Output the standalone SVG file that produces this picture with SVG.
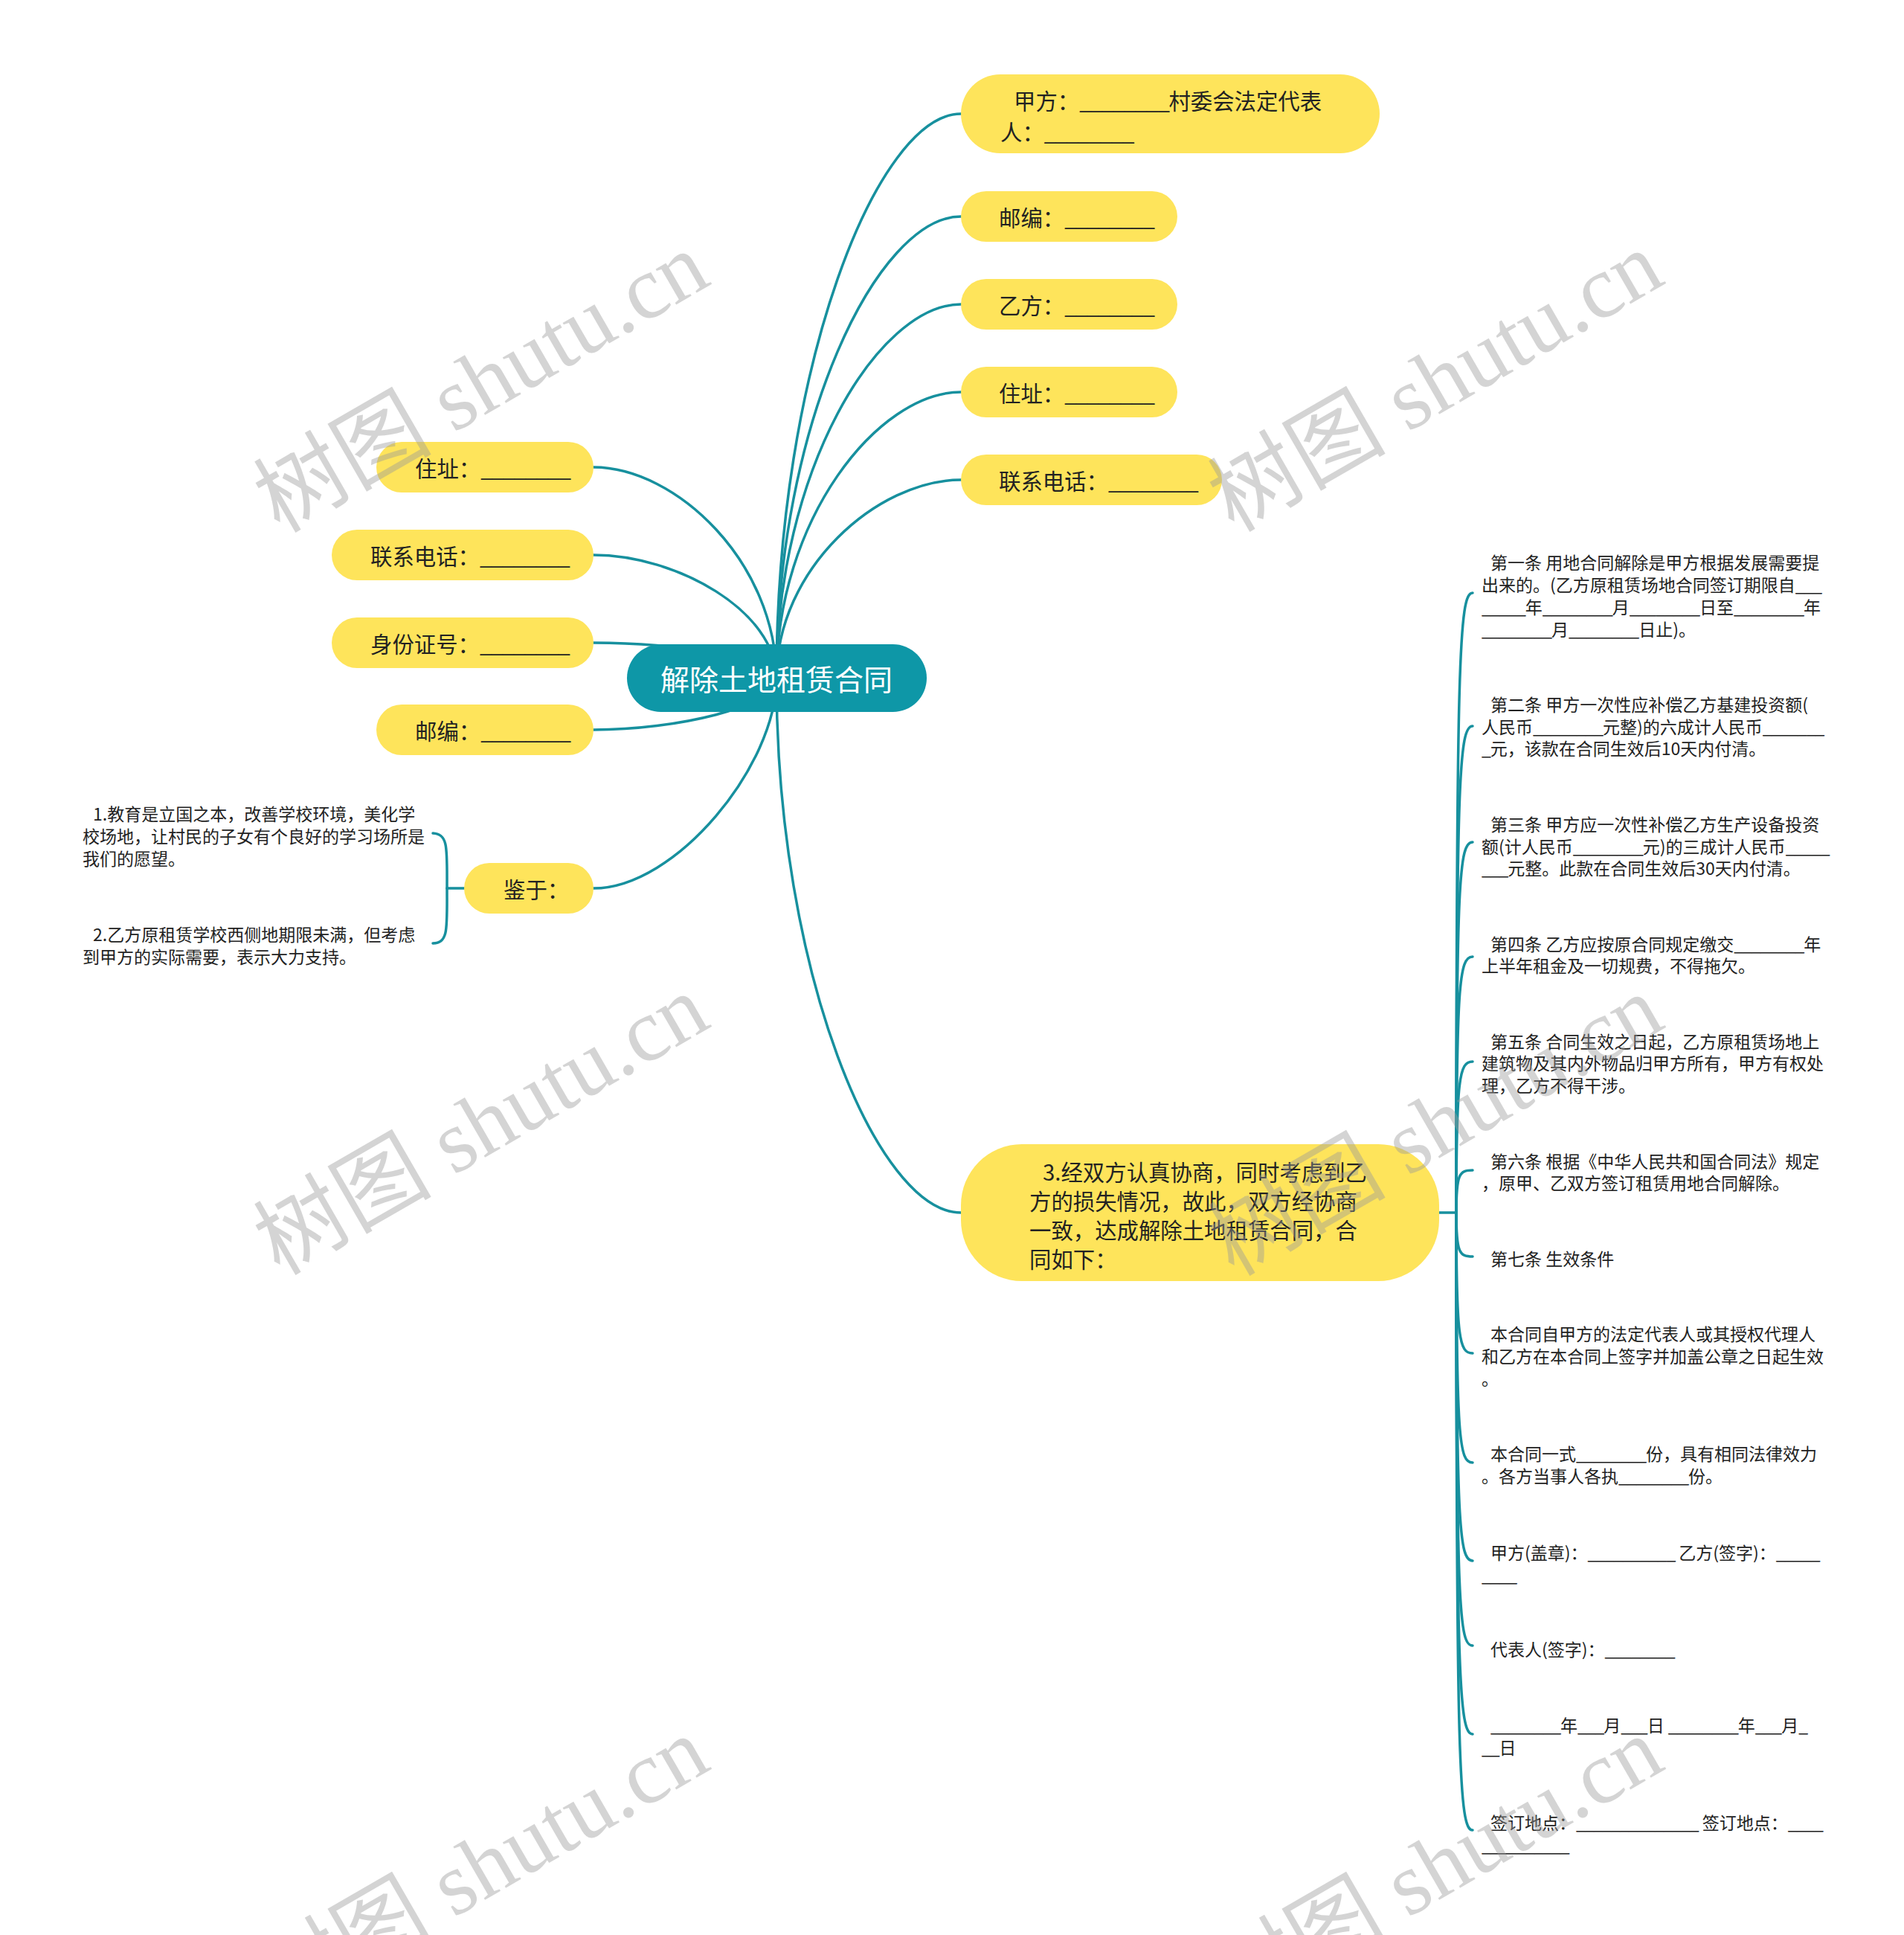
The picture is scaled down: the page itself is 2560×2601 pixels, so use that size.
<svg xmlns="http://www.w3.org/2000/svg" width="2560" height="2601" viewBox="0 0 2560 2601">
<style>
.bg{fill:#ffffff}
.c{fill:none;stroke:#17909E;stroke-width:3.5;stroke-linecap:round}
.yn{fill:#FEE45B}
.root{fill:#0E97A7}
.t{font-family:"Noto Sans CJK SC","Noto Sans",sans-serif;font-size:29.4px;fill:#222;dominant-baseline:central}
.rt{font-family:"Noto Sans CJK SC","Noto Sans",sans-serif;font-size:39px;fill:#ffffff;dominant-baseline:central;text-anchor:middle}
.s{font-family:"Noto Sans CJK SC","Noto Sans",sans-serif;font-size:23px;fill:#222;dominant-baseline:central}
.u{letter-spacing:-1.4px}
.us{letter-spacing:-1.1px}
.wm{font-family:"Liberation Serif","Noto Sans CJK SC",serif;font-size:120px;fill:#9a9a9a;opacity:0.42;text-anchor:middle;dominant-baseline:central}
</style>
<rect class="bg" x="0" y="0" width="2560" height="2601"/>

<g id="connectors">
  <path class="c" d="M1044,912 C1044,493 1180,153 1292,153"/>
  <path class="c" d="M1044,912 C1044,569 1180,291 1292,291"/>
  <path class="c" d="M1044,912 C1044,634 1180,409 1292,409"/>
  <path class="c" d="M1044,912 C1044,699 1180,527 1292,527"/>
  <path class="c" d="M1044,912 C1044,764 1180,645 1292,645"/>
  <path class="c" d="M1044,912 C1044,1307 1180,1630 1292,1630"/>
  <path class="c" d="M1044,912 C1044,756 909,628 798,628"/>
  <path class="c" d="M1044,912 C1044,821 909,746 798,746"/>
  <path class="c" d="M1044,912 C1044,886 909,864 798,864"/>
  <path class="c" d="M1044,912 C1044,950 909,981 798,981"/>
  <path class="c" d="M1044,912 C1044,1029 909,1194 798,1194"/>
  <path class="c" d="M624,1194 H601"/>
  <path class="c" d="M601,1194 C601,1140 603,1121 582,1120"/>
  <path class="c" d="M601,1194 C601,1250 603,1267 582,1268"/>
  <path class="c" d="M1935,1630 H1958"/>
  <path class="c" d="M1958,1630 C1958,880 1962,797 1980,797"/>
  <path class="c" d="M1958,1630 C1958,1041 1962,976 1980,976"/>
  <path class="c" d="M1958,1630 C1958,1180 1962,1132 1980,1132"/>
  <path class="c" d="M1958,1630 C1958,1322 1962,1286 1980,1286"/>
  <path class="c" d="M1958,1630 C1958,1448 1962,1427 1980,1427"/>
  <path class="c" d="M1958,1630 C1958,1578 1962,1573 1980,1573"/>
  <path class="c" d="M1958,1630 C1958,1684 1962,1689 1980,1689"/>
  <path class="c" d="M1958,1630 C1958,1800 1962,1819 1980,1819"/>
  <path class="c" d="M1958,1630 C1958,1936 1962,1966 1980,1966"/>
  <path class="c" d="M1958,1630 C1958,2054 1962,2098 1980,2098"/>
  <path class="c" d="M1958,1630 C1958,2168 1962,2212 1980,2212"/>
  <path class="c" d="M1958,1630 C1958,2260 1962,2331 1980,2331"/>
  <path class="c" d="M1958,1630 C1958,2380 1962,2460 1980,2460"/>
</g>

<g id="root">
  <rect class="root" x="843" y="866" width="403" height="91" rx="45.5"/>
  <text class="rt" x="1044" y="911">解除土地租赁合同</text>
</g>

<g id="n-jiafang">
  <rect class="yn" x="1292" y="100" width="563" height="106" rx="53"/>
  <text class="t" x="1363" y="134">甲方：<tspan class="u">________</tspan>村委会法定代表</text>
  <text class="t" x="1345" y="176">人：<tspan class="u">________</tspan></text>
</g>
<g id="n-youbian-r">
  <rect class="yn" x="1292" y="257" width="291" height="68" rx="34"/>
  <text class="t" x="1343" y="291">邮编：<tspan class="u">________</tspan></text>
</g>
<g id="n-yifang">
  <rect class="yn" x="1292" y="375" width="291" height="68" rx="34"/>
  <text class="t" x="1343" y="409">乙方：<tspan class="u">________</tspan></text>
</g>
<g id="n-zhuzhi-r">
  <rect class="yn" x="1292" y="493" width="291" height="68" rx="34"/>
  <text class="t" x="1343" y="527">住址：<tspan class="u">________</tspan></text>
</g>
<g id="n-dianhua-r">
  <rect class="yn" x="1292" y="611" width="351" height="68" rx="34"/>
  <text class="t" x="1343" y="645">联系电话：<tspan class="u">________</tspan></text>
</g>

<g id="n-zhuzhi-l">
  <rect class="yn" x="506" y="594" width="292" height="68" rx="34"/>
  <text class="t" x="558" y="628">住址：<tspan class="u">________</tspan></text>
</g>
<g id="n-dianhua-l">
  <rect class="yn" x="446" y="712" width="352" height="68" rx="34"/>
  <text class="t" x="498" y="746">联系电话：<tspan class="u">________</tspan></text>
</g>
<g id="n-shenfen">
  <rect class="yn" x="446" y="830" width="352" height="68" rx="34"/>
  <text class="t" x="498" y="864">身份证号：<tspan class="u">________</tspan></text>
</g>
<g id="n-youbian-l">
  <rect class="yn" x="506" y="947" width="292" height="68" rx="34"/>
  <text class="t" x="558" y="981">邮编：<tspan class="u">________</tspan></text>
</g>
<g id="n-jianyu">
  <rect class="yn" x="624" y="1160" width="174" height="68" rx="34"/>
  <text class="t" x="677" y="1194">鉴于：</text>
</g>
<g id="n-jianyu-1">
  <text class="s" x="125" y="1093">1.教育是立国之本，改善学校环境，美化学</text>
  <text class="s" x="111" y="1123">校场地，让村民的子女有个良好的学习场所是</text>
  <text class="s" x="111" y="1153">我们的愿望。</text>
</g>
<g id="n-jianyu-2">
  <text class="s" x="125" y="1255">2.乙方原租赁学校西侧地期限未满，但考虑</text>
  <text class="s" x="111" y="1285">到甲方的实际需要，表示大力支持。</text>
</g>

<g id="n-3">
  <rect class="yn" x="1292" y="1538" width="643" height="184" rx="82"/>
  <text class="t" x="1402" y="1574">3.经双方认真协商，同时考虑到乙</text>
  <text class="t" x="1384" y="1613">方的损失情况，故此，双方经协商</text>
  <text class="t" x="1384" y="1652">一致，达成解除土地租赁合同，合</text>
  <text class="t" x="1384" y="1691">同如下：</text>
</g>

<g id="c1">
  <text class="s" x="2004" y="755">第一条 用地合同解除是甲方根据发展需要提</text>
  <text class="s" x="1992" y="785">出来的。(乙方原租赁场地合同签订期限自<tspan class="us">___</tspan></text>
  <text class="s" x="1992" y="815"><tspan class="us">_____</tspan>年<tspan class="us">________</tspan>月<tspan class="us">________</tspan>日至<tspan class="us">________</tspan>年</text>
  <text class="s" x="1992" y="845"><tspan class="us">________</tspan>月<tspan class="us">________</tspan>日止)。</text>
</g>
<g id="c2">
  <text class="s" x="2004" y="946">第二条 甲方一次性应补偿乙方基建投资额(</text>
  <text class="s" x="1992" y="976">人民币<tspan class="us">________</tspan>元整)的六成计人民币<tspan class="us">_______</tspan></text>
  <text class="s" x="1992" y="1005"><tspan class="us">_</tspan>元，该款在合同生效后10天内付清。</text>
</g>
<g id="c3">
  <text class="s" x="2004" y="1107">第三条 甲方应一次性补偿乙方生产设备投资</text>
  <text class="s" x="1992" y="1137">额(计人民币<tspan class="us">________</tspan>元)的三成计人民币<tspan class="us">_____</tspan></text>
  <text class="s" x="1992" y="1166"><tspan class="us">___</tspan>元整。此款在合同生效后30天内付清。</text>
</g>
<g id="c4">
  <text class="s" x="2004" y="1268">第四条 乙方应按原合同规定缴交<tspan class="us">________</tspan>年</text>
  <text class="s" x="1992" y="1297">上半年租金及一切规费，不得拖欠。</text>
</g>
<g id="c5">
  <text class="s" x="2004" y="1399">第五条 合同生效之日起，乙方原租赁场地上</text>
  <text class="s" x="1992" y="1428">建筑物及其内外物品归甲方所有，甲方有权处</text>
  <text class="s" x="1992" y="1458">理，乙方不得干涉。</text>
</g>
<g id="c6">
  <text class="s" x="2004" y="1560">第六条 根据《中华人民共和国合同法》规定</text>
  <text class="s" x="1992" y="1589">，原甲、乙双方签订租赁用地合同解除。</text>
</g>
<g id="c7">
  <text class="s" x="2004" y="1691">第七条 生效条件</text>
</g>
<g id="c8">
  <text class="s" x="2004" y="1792">本合同自甲方的法定代表人或其授权代理人</text>
  <text class="s" x="1992" y="1822">和乙方在本合同上签字并加盖公章之日起生效</text>
  <text class="s" x="1992" y="1852">。</text>
</g>
<g id="c9">
  <text class="s" x="2004" y="1953">本合同一式<tspan class="us">________</tspan>份，具有相同法律效力</text>
  <text class="s" x="1992" y="1983">。各方当事人各执<tspan class="us">________</tspan>份。</text>
</g>
<g id="c10">
  <text class="s" x="2004" y="2086">甲方(盖章)：<tspan class="us">__________</tspan> 乙方(签字)：<tspan class="us">_____</tspan></text>
  <text class="s" x="1992" y="2116"><tspan class="us">____</tspan></text>
</g>
<g id="c11">
  <text class="s" x="2004" y="2216">代表人(签字)：<tspan class="us">________</tspan></text>
</g>
<g id="c12">
  <text class="s" x="2004" y="2318"><tspan class="us">________</tspan>年<tspan class="us">___</tspan>月<tspan class="us">___</tspan>日 <tspan class="us">________</tspan>年<tspan class="us">___</tspan>月<tspan class="us">_</tspan></text>
  <text class="s" x="1992" y="2348"><tspan class="us">__</tspan>日</text>
</g>
<g id="c13">
  <text class="s" x="2004" y="2449">签订地点：<tspan class="us">______________</tspan> 签订地点：<tspan class="us">____</tspan></text>
  <text class="s" x="1992" y="2479"><tspan class="us">__________</tspan></text>
</g>

<g id="watermarks">
  <text class="wm" transform="translate(647,514) rotate(-30)">树图 shutu.cn</text>
  <text class="wm" transform="translate(1930,513) rotate(-30)">树图 shutu.cn</text>
  <text class="wm" transform="translate(647,1512) rotate(-30)">树图 shutu.cn</text>
  <text class="wm" transform="translate(1930,1513) rotate(-30)">树图 shutu.cn</text>
  <text class="wm" transform="translate(647,2510) rotate(-30)">树图 shutu.cn</text>
  <text class="wm" transform="translate(1930,2510) rotate(-30)">树图 shutu.cn</text>
</g>
</svg>
